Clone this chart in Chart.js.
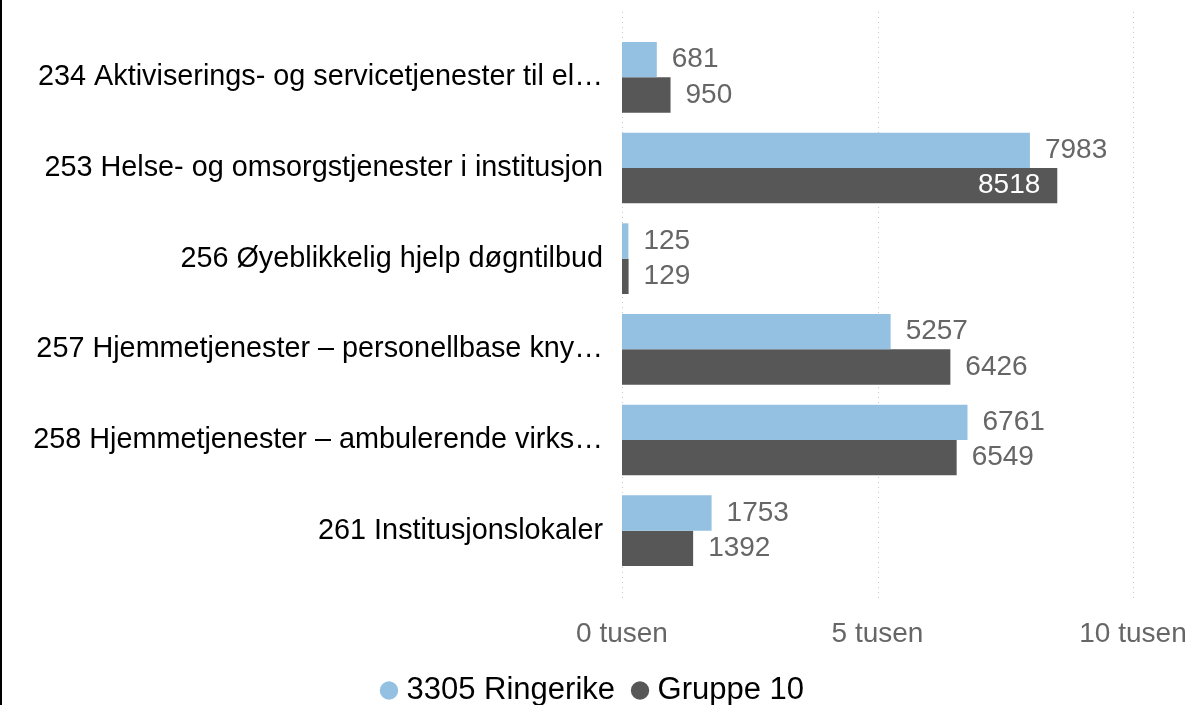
<!DOCTYPE html>
<html>
<head>
<meta charset="utf-8">
<script src="https://cdn.jsdelivr.net/npm/chart.js@4/dist/chart.umd.min.js"></script>
<style>
  html, body { margin: 0; padding: 0; background: #fff; }
  #wrap { position: relative; width: 1191px; height: 705px; }
  #edge { position: absolute; left: 0; top: 0; width: 2px; height: 705px; background: #000; }
</style>
</head>
<body>
<div id="wrap">
  <canvas id="myChart" width="1191" height="705"></canvas>
  <div id="edge"></div>
</div>
<script>
// kategorier og verdier (kr per innbygger)
const categories = [
  '234 Aktiviserings- og servicetjenester til el\u2026',
  '253 Helse- og omsorgstjenester i institusjon',
  '256 \u00d8yeblikkelig hjelp d\u00f8gntilbud',
  '257 Hjemmetjenester \u2013 personellbase kny\u2026',
  '258 Hjemmetjenester \u2013 ambulerende virks\u2026',
  '261 Institusjonslokaler'
];
const ringerike = [681, 7983, 125, 5257, 6761, 1753];
const gruppe10 = [950, 8518, 129, 6426, 6549, 1392];
const xTicks = [0, 5000, 10000];

const FONT = "'Liberation Sans', Arial, sans-serif";

// prikkete gridlinjer som går litt utenfor plottet
const gridPlugin = {
  id: 'dotGrid',
  beforeDatasetsDraw(chart) {
    const ctx = chart.ctx, x = chart.scales.x;
    ctx.save();
    ctx.strokeStyle = '#c8c8c8';
    ctx.lineWidth = 1;
    ctx.setLineDash([1, 4]);
    xTicks.forEach(v => {
      const px = Math.round(x.getPixelForValue(v)) + 0.5;
      ctx.beginPath();
      ctx.moveTo(px, 12);
      ctx.lineTo(px, chart.chartArea.bottom + 25);
      ctx.stroke();
    });
    ctx.restore();
  }
};

// verdietiketter ved enden av stolpene
const labelPlugin = {
  id: 'barLabels',
  afterDatasetsDraw(chart) {
    const ctx = chart.ctx;
    ctx.save();
    ctx.font = '28px ' + FONT;
    ctx.textBaseline = 'middle';
    chart.data.datasets.forEach((ds, i) => {
      chart.getDatasetMeta(i).data.forEach((bar, j) => {
        const txt = String(ds.data[j]);
        const w = ctx.measureText(txt).width;
        if (bar.x + 15 + w > chart.chartArea.right) {
          ctx.fillStyle = '#ffffff';
          ctx.textAlign = 'right';
          ctx.fillText(txt, bar.x - 17, bar.y);
        } else {
          ctx.fillStyle = '#666666';
          ctx.textAlign = 'left';
          ctx.fillText(txt, bar.x + 15, bar.y);
        }
      });
    });
    ctx.restore();
  }
};

const config = {
  type: 'bar',
  data: {
    labels: categories,
    datasets: [{
      label: '3305 Ringerike',
      backgroundColor: '#94C1E1',
      data: ringerike
    }, {
      label: 'Gruppe 10',
      backgroundColor: '#575757',
      data: gruppe10
    }]
  },
  options: {
    indexAxis: 'y',
    responsive: false,
    animation: false,
    layout: { padding: { top: 32, right: 0, bottom: -11, left: 0 } },
    datasets: { bar: { categoryPercentage: 0.78, barPercentage: 1 } },
    scales: {
      x: {
        min: 0,
        max: 10000,
        afterBuildTicks: scale => { scale.ticks = xTicks.map(v => ({ value: v })); },
        afterFit: scale => {
          scale.height = 76;
          scale.paddingLeft = 0;
          scale.paddingRight = 58;
        },
        grid: { display: false },
        border: { display: false },
        ticks: {
          padding: 33,
          color: '#666666',
          font: { family: FONT, size: 28 },
          maxRotation: 0,
          callback: v => (v / 1000) + ' tusen'
        }
      },
      y: {
        grid: { display: false },
        border: { display: false },
        afterFit: scale => {
          scale.width = 622;
          scale.paddingTop = 0;
          scale.paddingBottom = 0;
        },
        ticks: {
          padding: 11,
          color: '#000000',
          font: { family: FONT, size: 28.8 }
        }
      }
    },
    plugins: {
      legend: {
        position: 'bottom',
        labels: {
          usePointStyle: true,
          pointStyle: 'circle',
          boxWidth: 4,
          boxHeight: 13,
          padding: 23,
          color: '#000000',
          font: { family: FONT, size: 31 }
        }
      },
      tooltip: { enabled: false }
    }
  },
  plugins: [gridPlugin, labelPlugin]
};

const myChart = new Chart(document.getElementById('myChart'), config);
</script>
</body>
</html>
